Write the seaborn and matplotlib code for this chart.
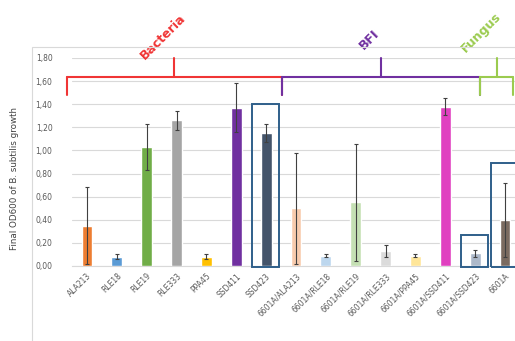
import seaborn as sns
import matplotlib.pyplot as plt
from matplotlib.patches import Rectangle
from matplotlib.ticker import FuncFormatter
import pandas as pd

# chart data
strains = [
    "ALA213", "RLE18", "RLE19", "RLE333", "PPA45", "SSD411", "SSD423",
    "6601A/ALA213", "6601A/RLE18", "6601A/RLE19", "6601A/RLE333",
    "6601A/PPA45", "6601A/SSD411", "6601A/SSD423", "6601A",
]
od600 = [0.35, 0.08, 1.03, 1.26, 0.08, 1.37, 1.15,
         0.50, 0.09, 0.55, 0.13, 0.09, 1.38, 0.11, 0.40]
od600_err = [0.33, 0.02, 0.20, 0.08, 0.02, 0.21, 0.08,
             0.48, 0.01, 0.51, 0.05, 0.01, 0.07, 0.03, 0.32]
bar_colors = [
    "#ED7D31", "#5B9BD5", "#70AD47", "#A5A5A5", "#FFC000", "#7030A0", "#44546A",
    "#F8CBAD", "#BDD7EE", "#C5E0B4", "#DBDBDB", "#FFE699", "#E040C0", "#ADB9CA",
    "#7B6B60",
]

# group brackets: label, start, end, colour
groups = ["Bacteria", "BFI", "Fungus"]
group_spans = [(-0.67, 6.53), (6.53, 13.16), (13.16, 14.27)]
group_colors = ["#F03535", "#7030A0", "#9BCB4F"]
group_label_pos = [(2.55, 1.98), (9.45, 1.96), (13.2, 2.02)]

# highlighted bars: strain, box top
highlight = ["SSD423", "6601A/SSD423", "6601A"]
highlight_top = [1.40, 0.27, 0.89]

df = pd.DataFrame({"strain": strains, "od600": od600})

sns.set_style("white")
fig = plt.figure(figsize=(5.15, 3.41), dpi=100)
ax = fig.add_axes([72 / 515, 75 / 341, 448 / 515, 208 / 341])

# outer chart frame
fig.patches.append(Rectangle((32 / 515, -0.1), 2, 1 - 47 / 341 + 0.1,
                             transform=fig.transFigure, fill=False,
                             edgecolor="#D9D9D9", linewidth=0.8))

sns.barplot(data=df, x="strain", y="od600", hue="strain", palette=bar_colors,
            saturation=1, legend=False, width=0.36, errorbar=None, ax=ax,
            zorder=3)
ax.errorbar(range(len(strains)), od600, yerr=od600_err, fmt="none",
            ecolor="#404040", elinewidth=0.8, capsize=1.5, capthick=0.8,
            zorder=4)

ax.set_xlim(-0.5, len(strains) - 0.5)
ax.set_ylim(0, 1.8)
ax.set_yticks([i * 0.2 for i in range(10)])
ax.yaxis.set_major_formatter(FuncFormatter(lambda v, p: f"{v:.2f}".replace(".", ",")))
ax.yaxis.grid(True, color="#D9D9D9", linewidth=0.8, zorder=0)
for s in ["top", "right", "left"]:
    ax.spines[s].set_visible(False)
ax.spines["bottom"].set_color("#D9D9D9")
ax.tick_params(axis="y", labelsize=5.5, labelcolor="#595959", length=0, pad=14)
ax.tick_params(axis="x", labelsize=5.5, labelcolor="#595959", length=0, pad=4)
plt.setp(ax.get_xticklabels(), rotation=45, ha="right", rotation_mode="anchor")
ax.set_xlabel("")
ax.set_ylabel("Final OD600 of B. subtilis growth", fontsize=6.3, color="#404040")
ax.yaxis.set_label_coords(-0.118, 0.42)

# boxes around highlighted bars
for name, top in zip(highlight, highlight_top):
    i = strains.index(name)
    ax.add_patch(Rectangle((i - 0.47, -0.01), 0.9, top + 0.01, fill=False,
                           edgecolor="#2F5F8A", linewidth=1.4, zorder=5,
                           clip_on=False))

# group brackets above the bars
for name, (x0, x1), c, (tx, ty) in zip(groups, group_spans, group_colors,
                                        group_label_pos):
    kw = dict(color=c, linewidth=1.5, clip_on=False, zorder=6)
    ax.plot([x0, x1], [1.635, 1.635], **kw)
    ax.plot([x0, x0], [1.635, 1.48], **kw)
    ax.plot([x1, x1], [1.635, 1.48], **kw)
    mid = (x0 + x1) / 2
    ax.plot([mid, mid], [1.635, 1.80], **kw)
    ax.text(tx, ty, name, color=c, fontsize=9, fontweight="bold", rotation=45,
            ha="center", va="center", clip_on=False)

fig.savefig("out.png", dpi=100)
